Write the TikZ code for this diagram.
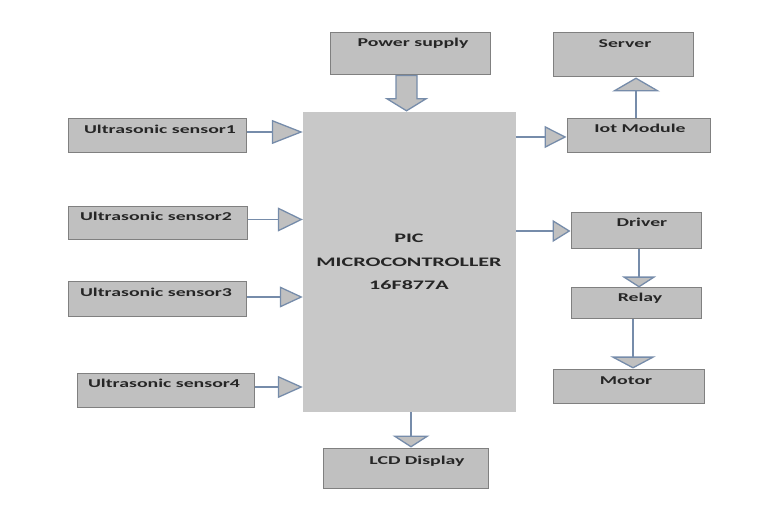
\documentclass[tikz,border=0pt]{standalone}
\usepackage{fontspec}
\usepackage{graphicx}
\setmainfont{Carlito}
\usetikzlibrary{arrows.meta}
\definecolor{boxfill}{RGB}{192,192,192}
\definecolor{boxline}{RGB}{128,128,128}
\definecolor{mainfill}{RGB}{200,200,200}
\definecolor{connc}{RGB}{118,140,170}
\newcommand{\wlbl}[1]{\scalebox{1.65}[1]{\fontsize{12}{14}\selectfont\bfseries #1}}
\newcommand{\wmain}[1]{\scalebox{1.7}[1]{\fontsize{13}{15}\selectfont\bfseries #1}}
\begin{document}
\begin{tikzpicture}[x=1pt,y=-1pt,
  blk/.style={draw=boxline, fill=boxfill, line width=1pt, inner sep=0pt},
  mainblk/.style={fill=mainfill, draw=none, inner sep=0pt},
  lbl/.style={inner sep=0pt, anchor=base, text=black!85},
  conn/.style={draw=connc, line width=1.3pt},
  tipv/.style 2 args={conn, -{Triangle[length=#1, width=#2, fill=boxfill]}},
  hollow/.style={draw=connc, fill=boxfill, line width=1.3pt, line join=miter}
]
\useasboundingbox (0,0) rectangle (768,510);

% blocks
\node[mainblk, minimum width=213pt, minimum height=300pt] (main) at (409.5,262) {};
\node[blk, minimum width=160pt, minimum height=42pt] (ps) at (410,54) {};
\node[blk, minimum width=140pt, minimum height=44pt] (server) at (623,55) {};
\node[blk, minimum width=143pt, minimum height=34pt] (iot) at (638.5,136) {};
\node[blk, minimum width=178pt, minimum height=34pt] (s1) at (157,136) {};
\node[blk, minimum width=179pt, minimum height=33pt] (s2) at (157.5,223.5) {};
\node[blk, minimum width=178pt, minimum height=35pt] (s3) at (157,299.5) {};
\node[blk, minimum width=177pt, minimum height=34pt] (s4) at (165.5,390) {};
\node[blk, minimum width=130pt, minimum height=36pt] (driver) at (636,231) {};
\node[blk, minimum width=130pt, minimum height=31pt] (relay) at (636,303.5) {};
\node[blk, minimum width=151pt, minimum height=34pt] (motor) at (628.5,386) {};
\node[blk, minimum width=165pt, minimum height=40pt] (lcd) at (405.5,468) {};

% labels
\node[lbl] (tps) at (413,47) {\wlbl{Power supply}};
\node[lbl] (tserver) at (625,48) {\wlbl{Server}};
\node[lbl] (tiot) at (640,133) {\wlbl{Iot Module}};
\node[lbl] (ts1) at (160,134) {\wlbl{Ultrasonic sensor1}};
\node[lbl] (ts2) at (156,221) {\wlbl{Ultrasonic sensor2}};
\node[lbl] (ts3) at (156,297) {\wlbl{Ultrasonic sensor3}};
\node[lbl] (ts4) at (164,387) {\wlbl{Ultrasonic sensor4}};
\node[lbl] (tdriver) at (642,227) {\wlbl{Driver}};
\node[lbl] (trelay) at (640,302) {\wlbl{Relay}};
\node[lbl] (tmotor) at (626,384) {\wlbl{Motor}};
\node[lbl] (tlcd) at (417,464) {\wlbl{LCD Display}};
\node[lbl] (tm1) at (409,243) {\wmain{PIC}};
\node[lbl] (tm2) at (409,267) {\wmain{MICROCONTROLLER}};
\node[lbl] (tm3) at (409,290) {\wmain{16F877A}};

% power supply block arrow
\coordinate (pa) at ([xshift=-3.5pt]ps.south);
\coordinate (pb) at (pa |- main.north);
\draw[hollow] ([xshift=-10.5pt]pa) -- ([xshift=10.5pt]pa)
  -- ([xshift=10.5pt,yshift=13pt]pb) -- ([xshift=19.5pt,yshift=13pt]pb)
  -- ([yshift=1pt]pb) -- ([xshift=-19.5pt,yshift=13pt]pb)
  -- ([xshift=-10.5pt,yshift=13pt]pb) -- cycle;

% sensors to main
\coordinate (a1) at ([yshift=4pt]s1.east);
\coordinate (a2) at ([yshift=4pt]s2.east);
\coordinate (a3) at ([yshift=2.5pt]s3.east);
\coordinate (a4) at ([yshift=3pt]s4.east);
\draw[tipv={31pt}{24pt}] (a1) -- (a1 -| main.west);
\draw[tipv={25pt}{24pt}] (a2) -- (a2 -| main.west);
\draw[tipv={23pt}{21pt}] (a3) -- (a3 -| main.west);
\draw[tipv={25pt}{22pt}] (a4) -- (a4 -| main.west);

% main to outputs
\draw[tipv={22pt}{22pt}] ([yshift=-1pt]iot.west -| main.east) -- ([yshift=-1pt]iot.west);
\draw[tipv={18pt}{22pt}] (driver.west -| main.east) -- (driver.west);

% iot to server
\coordinate (i1) at ([xshift=-2.5pt]iot.north);
\draw[tipv={14pt}{48pt}] (i1) -- (i1 |- server.south);

% driver to relay, relay to motor
\coordinate (d1) at ([xshift=3pt]driver.south);
\draw[tipv={11pt}{34pt}] (d1) -- (d1 |- relay.north);
\coordinate (r1) at ([xshift=-3pt]relay.south);
\draw[tipv={12pt}{45pt}] (r1) -- (r1 |- motor.north);

% main to lcd
\coordinate (m1) at ([xshift=1.5pt]main.south);
\draw[tipv={12pt}{37pt}] (m1) -- (m1 |- lcd.north);
\end{tikzpicture}
\end{document}
